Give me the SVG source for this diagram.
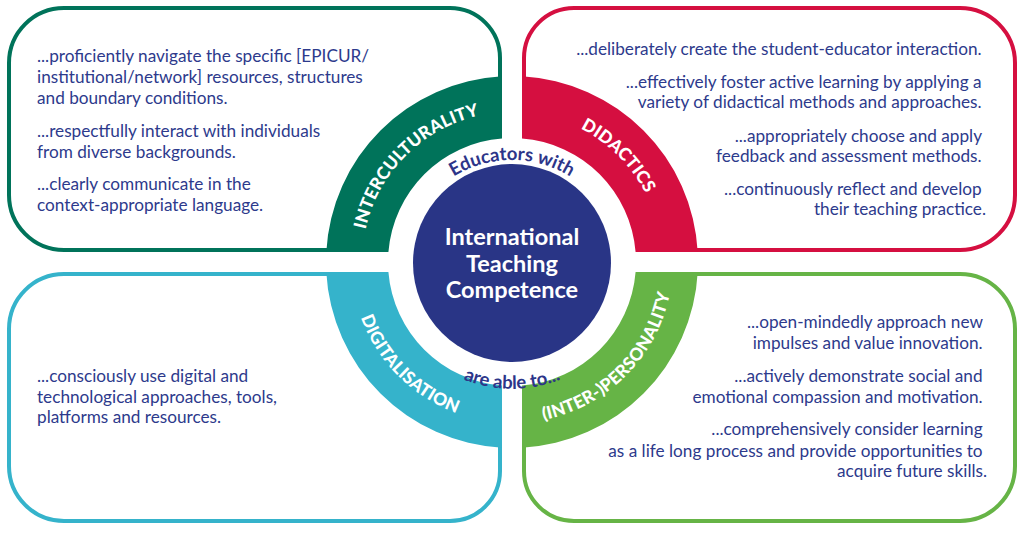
<svg xmlns="http://www.w3.org/2000/svg" width="1024" height="536" viewBox="0 0 1024 536">
<style>
.box{fill:#ffffff;stroke-width:4;stroke-linejoin:round}
.body{font-family:Lato,"Open Sans","Liberation Sans",sans-serif;font-size:17.2px;fill:#2d3a8c}
.r{text-anchor:end}
.lab{font-family:Lato,"Open Sans","Liberation Sans",sans-serif;font-weight:900;font-size:17.5px;fill:#ffffff;letter-spacing:0.2px}
.arc{font-family:Lato,"Open Sans","Liberation Sans",sans-serif;font-weight:700;font-size:18.5px;fill:#2d3589}
.ctr{font-family:Lato,"Open Sans","Liberation Sans",sans-serif;font-weight:700;font-size:23.5px;fill:#ffffff;text-anchor:middle}
</style>
<defs>
<path id="pInter" d="M 371.0 313.3 A 150 150 0 0 1 563.3 121.0"/>
<path id="pDid" d="M 460.7 121.0 A 150 150 0 0 1 653.0 313.3"/>
<path id="pDig" d="M 360.7 206.9 A 161 161 0 0 0 567.1 413.3"/>
<path id="pPers" d="M 456.9 413.3 A 161 161 0 0 0 663.3 206.9"/>
<path id="pTop" d="M 408.6 232.4 A 110 110 0 0 1 615.4 232.4"/>
<path id="pBot" d="M 389.5 302.4 A 130 130 0 0 0 634.5 302.4"/>
</defs>
<rect width="1024" height="536" fill="#ffffff"/>

<g id="interculturality">
<path class="box" stroke="#00735a" d="M 340 250 H 64 A 55 55 0 0 1 9 195 V 63 A 55 55 0 0 1 64 8 H 450 A 50 50 0 0 1 500 58 V 90"/>
<path fill="#00735a" d="M 326.27 252 A 186 186 0 0 1 502 76.27 L 502 138.4 A 124 124 0 0 0 388.4 252 Z"/>
<text class="lab"><textPath href="#pInter" startOffset="50%" text-anchor="middle">INTERCULTURALITY</textPath></text>
<text class="body">
<tspan x="37" y="62">...proficiently navigate the specific [EPICUR/</tspan>
<tspan x="37" y="83">institutional/network] resources, structures</tspan>
<tspan x="37" y="104">and boundary conditions.</tspan>
<tspan x="37" y="137">...respectfully interact with individuals</tspan>
<tspan x="37" y="158">from diverse backgrounds.</tspan>
<tspan x="37" y="190">...clearly communicate in the</tspan>
<tspan x="37" y="211">context-appropriate language.</tspan>
</text>
</g>

<g id="didactics">
<path class="box" stroke="#d50f40" d="M 524 90 V 58 A 50 50 0 0 1 574 8 H 960 A 55 55 0 0 1 1015 63 V 195 A 55 55 0 0 1 960 250 H 684"/>
<path fill="#d50f40" d="M 522 76.27 A 186 186 0 0 1 697.73 252 L 635.6 252 A 124 124 0 0 0 522 138.4 Z"/>
<text class="lab"><textPath href="#pDid" startOffset="50%" text-anchor="middle">DIDACTICS</textPath></text>
<text class="body r">
<tspan x="986" y="55">...deliberately create the student-educator interaction.</tspan>
<tspan x="986" y="88">...effectively foster active learning by applying a</tspan>
<tspan x="986" y="108">variety of didactical methods and approaches.</tspan>
<tspan x="986" y="142">...appropriately choose and apply</tspan>
<tspan x="986" y="162">feedback and assessment methods.</tspan>
<tspan x="986" y="195">...continuously reflect and develop</tspan>
<tspan x="986" y="215">their teaching practice.</tspan>
</text>
</g>

<g id="digitalisation">
<path class="box" stroke="#35b3cb" d="M 340 274 H 64 A 55 55 0 0 0 9 329 V 466 A 55 55 0 0 0 64 521 H 450 A 50 50 0 0 0 500 471 V 434"/>
<path fill="#35b3cb" d="M 326.27 272 L 388.4 272 A 124 124 0 0 0 502 385.6 L 502 447.73 A 186 186 0 0 1 326.27 272 Z"/>
<text class="lab"><textPath href="#pDig" startOffset="50%" text-anchor="middle">DIGITALISATION</textPath></text>
<text class="body">
<tspan x="37" y="382">...consciously use digital and</tspan>
<tspan x="37" y="403">technological approaches, tools,</tspan>
<tspan x="37" y="423">platforms and resources.</tspan>
</text>
</g>

<g id="interpersonality">
<path class="box" stroke="#66b446" d="M 684 274 H 960 A 55 55 0 0 1 1015 329 V 466 A 55 55 0 0 1 960 521 H 574 A 50 50 0 0 1 524 471 V 434"/>
<path fill="#66b446" d="M 522 385.6 A 124 124 0 0 0 635.6 272 L 697.73 272 A 186 186 0 0 1 522 447.73 Z"/>
<text class="lab"><textPath href="#pPers" startOffset="50%" text-anchor="middle">(INTER-)PERSONALITY</textPath></text>
<text class="body r">
<tspan x="987" y="328">...open-mindedly approach new</tspan>
<tspan x="987" y="349">impulses and value innovation.</tspan>
<tspan x="987" y="382">...actively demonstrate social and</tspan>
<tspan x="987" y="403">emotional compassion and motivation.</tspan>
<tspan x="987" y="435">...comprehensively consider learning</tspan>
<tspan x="987" y="457">as a life long process and provide opportunities to</tspan>
<tspan x="987" y="477">acquire future skills.</tspan>
</text>
</g>

<g id="center">
<circle cx="512" cy="263" r="99" fill="#293586"/>
<text class="ctr"><tspan x="512" y="245">International</tspan><tspan x="512" y="272">Teaching</tspan><tspan x="512" y="298">Competence</tspan></text>
<text class="arc"><textPath href="#pTop" startOffset="50%" text-anchor="middle">Educators with</textPath></text>
<text class="arc"><textPath href="#pBot" startOffset="50%" text-anchor="middle">are able to...</textPath></text>
</g>

<g id="connectors"></g>
</svg>
